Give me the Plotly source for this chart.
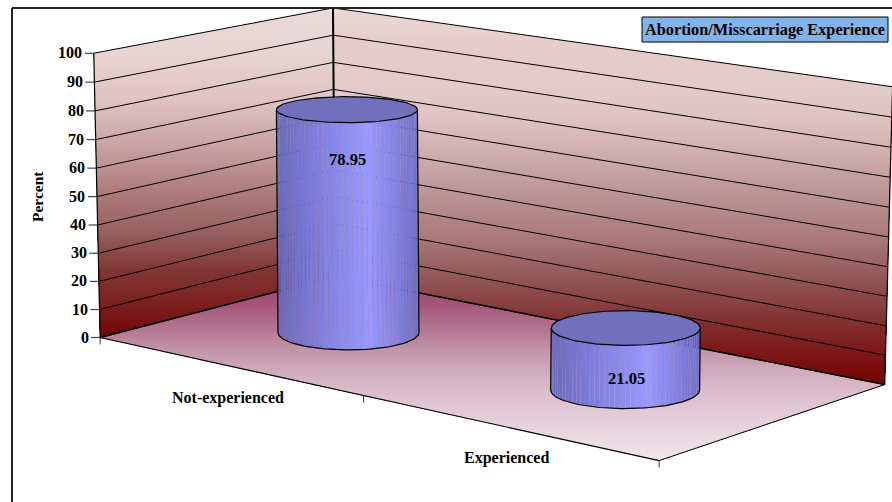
import numpy as np
import plotly.graph_objects as go

# Chart content
categories = ["Not-experienced", "Experienced"]
percent_values = [78.95, 21.05]
value_ticks = [0, 10, 20, 30, 40, 50, 60, 70, 80, 90, 100]
value_axis_title = "Percent"
chart_title = "Abortion/Misscarriage Experience"

FONT = "Liberation Serif"
WIDTH, HEIGHT = 892, 502

# Camera calibration: (category, depth, value) box points and where they land on the page
BOX_POINTS = [(0, 0, 0), (1, 0, 0), (0, 1, 0), (1, 1, 0), (0, 0, 1), (0, 1, 1), (1, 1, 1),
              (0, 0, .5), (0, 1, .5), (1, 1, .5)]
PAGE_POINTS = [(101, 337), (659, 461), (334, 277), (885, 384), (93, 53), (334, 8), (892, 87),
               (97, 197), (334, 143), (889, 237)]


def solve_camera(world, page):
    rows = []
    for (x, y, z), (px, py) in zip(world, page):
        rows.append([x, y, z, 1, 0, 0, 0, 0, -px * x, -px * y, -px * z, -px])
        rows.append([0, 0, 0, 0, x, y, z, 1, -py * x, -py * y, -py * z, -py])
    return np.linalg.svd(np.array(rows, float))[2][-1].reshape(3, 4)


CAMERA = solve_camera(BOX_POINTS, PAGE_POINTS)


def project(u, v, z):
    h = CAMERA @ np.array([u, v, z, 1.0])
    return h[0] / h[2], h[1] / h[2]


def ramp(stops, t):
    keys = [s[0] for s in stops]
    return "rgb(%d,%d,%d)" % tuple(np.interp(t, keys, [s[1][i] for s in stops]) for i in range(3))


# Colour ramps: walls and floor shade with page height, cylinder sides across their width
LEFT_WALL_RAMP = [(8, (235, 218, 218)), (53, (232, 212, 212)), (100, (225, 195, 195)), (150, (200, 160, 160)),
                  (190, (175, 125, 125)), (233, (150, 95, 95)), (270, (130, 55, 55)), (300, (125, 35, 35)),
                  (320, (120, 20, 20)), (337, (115, 5, 5))]
RIGHT_WALL_RAMP = [(8, (235, 215, 215)), (46, (230, 205, 205)), (90, (228, 203, 203)), (120, (222, 195, 195)),
                   (160, (205, 170, 170)), (200, (185, 145, 145)), (240, (170, 120, 120)), (280, (145, 85, 85)),
                   (320, (130, 50, 50)), (350, (125, 25, 25)), (384, (118, 3, 3))]
FLOOR_RAMP = [(277, (150, 55, 105)), (295, (160, 75, 115)), (330, (180, 120, 145)), (350, (195, 150, 170)),
              (380, (215, 180, 195)), (410, (226, 202, 214)), (461, (242, 230, 236))]
SIDE_RAMP = [(0, (104, 106, 186)), (.3, (128, 128, 220)), (.65, (153, 153, 255)), (1, (112, 112, 198))]
CAP_COLOR = "#7070bc"

traces = []


def polygon(xs, ys, color):
    traces.append(go.Scatter(x=list(xs), y=list(ys), mode="lines", fill="toself", fillcolor=color,
                             line=dict(width=0), hoverinfo="skip", showlegend=False))


def segment(a, b, width=1.0, color="black"):
    traces.append(go.Scatter(x=[a[0], b[0]], y=[a[1], b[1]], mode="lines",
                             line=dict(width=width, color=color), hoverinfo="skip", showlegend=False))


def clip_below(points, y_min):
    out = []
    for i, p in enumerate(points):
        q = points[(i + 1) % len(points)]
        if p[1] >= y_min:
            out.append(p)
        if (p[1] >= y_min) != (q[1] >= y_min):
            t = (y_min - p[1]) / (q[1] - p[1])
            out.append((p[0] + t * (q[0] - p[0]), y_min))
    return out


def shaded(corners, stops, step=3.0):
    # Horizontal bands painted top to bottom, each covering the rest of the shape, so no seams appear
    ys = [p[1] for p in corners]
    for y in np.arange(min(ys), max(ys), step):
        piece = clip_below(corners, y)
        if len(piece) > 2:
            polygon([p[0] for p in piece], [p[1] for p in piece], ramp(stops, y + step / 2))


shaded([project(0, 0, 0), project(0, 1, 0), project(1, 1, 0), project(1, 0, 0)], FLOOR_RAMP)
shaded([project(0, 0, 0), project(0, 1, 0), project(0, 1, 1), project(0, 0, 1)], LEFT_WALL_RAMP)
shaded([project(0, 1, 0), project(1, 1, 0), project(1, 1, 1), project(0, 1, 1)], RIGHT_WALL_RAMP)

# Gridlines along both walls, plus ticks on the value axis
for tick in value_ticks:
    z = tick / 100
    segment(project(0, 0, z), project(0, 1, z), 1.0)
    segment(project(0, 1, z), project(1, 1, z), 1.0)
    px, py = project(0, 0, z)
    segment((px - 9, py), (px, py), 1.2, "#444444")

# Box edges
segment(project(0, 0, 0), project(0, 0, 1), 1.2)
segment(project(0, 1, 0), project(0, 1, 1), 2.0)
segment(project(1, 1, 0), project(1, 1, 1), 1.2)
segment(project(0, 0, 0), project(0, 1, 0), 1.6)
segment(project(0, 1, 0), project(1, 1, 0), 1.4)
segment(project(0, 0, 0), project(1, 0, 0), 1.2)
segment(project(1, 0, 0), project(1, 1, 0), 1.0)

# Category ticks under the front edge
for u in (0, 0.5, 1):
    px, py = project(u, 0, 0)
    segment((px, py), (px, py + 7), 1.0, "#333333")

# Cylinders, one per category, sized by the value
BAR_RADIUS = [70.5, 74.5]
CATEGORY_CENTERS = [0.25, 0.75]
BAR_DEPTH = 0.5
FACETS = 44


def ellipse_height(y):
    return 13 + (y - 111) * 0.02


for value, radius, u in zip(percent_values, BAR_RADIUS, CATEGORY_CENTERS):
    bx, by = project(u, BAR_DEPTH, 0)
    tx, ty = project(u, BAR_DEPTH, value / 100)
    rb, rt = ellipse_height(by), ellipse_height(ty)
    angles = np.linspace(np.pi, 0, FACETS + 1)
    for a0, a1 in zip(angles[:-1], angles[1:]):
        xs = [tx + radius * np.cos(a0), tx + radius * np.cos(a1), bx + radius * np.cos(a1), bx + radius * np.cos(a0)]
        ys = [ty + rt * np.sin(a0), ty + rt * np.sin(a1), by + rb * np.sin(a1), by + rb * np.sin(a0)]
        polygon(xs, ys, ramp(SIDE_RAMP, 0.5 + 0.5 * np.cos((a0 + a1) / 2)))
    arc = np.linspace(np.pi, 0, 80)
    traces.append(go.Scatter(x=bx + radius * np.cos(arc), y=by + rb * np.sin(arc), mode="lines",
                             line=dict(width=1.2, color="black"), hoverinfo="skip", showlegend=False))
    segment((tx - radius, ty), (bx - radius, by), 1.2)
    segment((tx + radius, ty), (bx + radius, by), 1.2)
    ring = np.linspace(0, 2 * np.pi, 121)
    traces.append(go.Scatter(x=tx + radius * np.cos(ring), y=ty + rt * np.sin(ring), mode="lines", fill="toself",
                             fillcolor=CAP_COLOR, line=dict(width=1.2, color="black"),
                             hoverinfo="skip", showlegend=False))

fig = go.Figure(traces)

bold = dict(family=FONT, color="black", weight="bold")
annotations = []


def label(x, y, text, size, anchor="center", angle=0):
    annotations.append(dict(x=x, y=y, text=text, showarrow=False, xanchor=anchor, yanchor="middle",
                            textangle=angle, font=dict(size=size, **bold)))


for tick in value_ticks:
    px, py = project(0, 0, tick / 100)
    label(px - 9.5, py - 0.5, str(tick), 16, "right")

for name, value, u, shift in zip(categories, percent_values, CATEGORY_CENTERS, [(0, 32), (0, 31)]):
    px, py = project(u, 0, 0)
    label(px + shift[0], py + shift[1], name, 16)
    tx, ty = project(u, BAR_DEPTH, value / 100)
    label(tx + 1, ty + 50, f"{value:.2f}", 16.5)

label(37, 197, value_axis_title, 15.5, angle=-90)

fig.update_layout(
    width=WIDTH, height=HEIGHT, margin=dict(l=0, r=0, t=0, b=0),
    paper_bgcolor="white", plot_bgcolor="white", showlegend=False,
    xaxis=dict(range=[0, WIDTH], visible=False, fixedrange=True),
    yaxis=dict(range=[HEIGHT, 0], visible=False, fixedrange=True),
    annotations=annotations + [dict(x=765, y=29.5, text=chart_title, showarrow=False, xanchor="center",
                                    yanchor="middle", font=dict(size=16.3, **bold))],
    shapes=[
        dict(type="rect", x0=642, x1=888, y0=17, y1=42, fillcolor="#82b4ea", line=dict(color="black", width=1)),
        dict(type="line", x0=12, x1=12, y0=8, y1=HEIGHT, line=dict(color="#222222", width=2)),
        dict(type="line", x0=12, x1=WIDTH, y0=8, y1=8, line=dict(color="#222222", width=2)),
    ],
)

fig.write_html("out.html", config=dict(displayModeBar=False))
